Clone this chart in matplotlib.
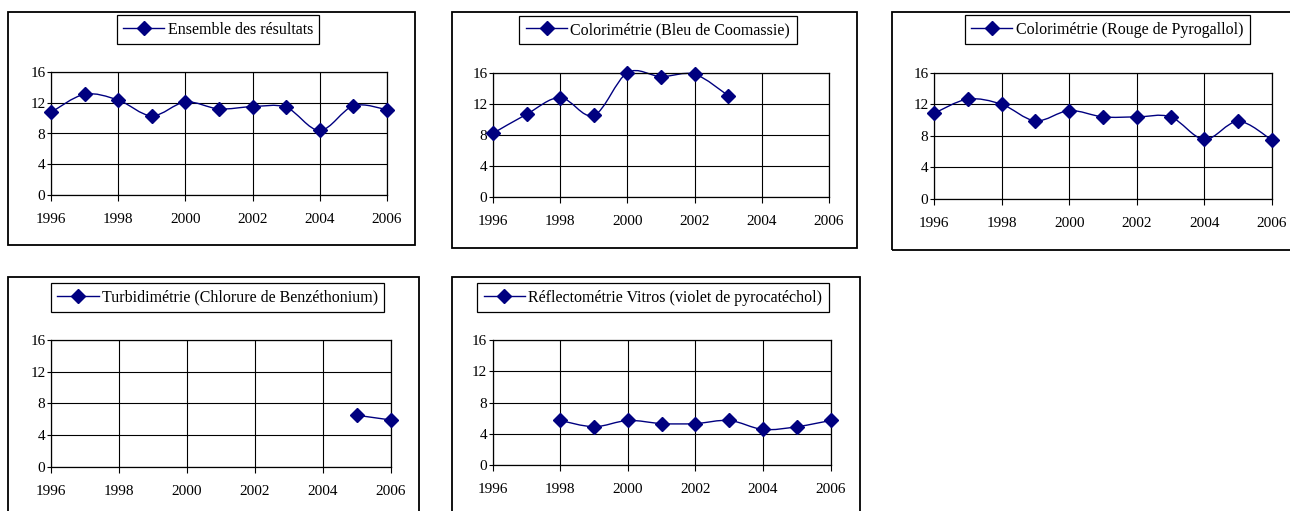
import numpy as np
import matplotlib
matplotlib.use("Agg")
import matplotlib.pyplot as plt
from matplotlib.path import Path
from matplotlib.patches import PathPatch, Rectangle
from matplotlib.lines import Line2D

plt.rcParams['font.family'] = ['Liberation Serif', 'DejaVu Serif']

years = [1996, 1997, 1998, 1999, 2000, 2001, 2002, 2003, 2004, 2005, 2006]

ensemble = [10.75, 13.1, 12.35, 10.3, 12.1, 11.2, 11.5, 11.4, 8.4, 11.6, 11.1]
coomassie = [8.2, 10.65, 12.8, 10.5, 16.0, 15.5, 15.8, 13.05, None, None, None]
pyrogallol = [10.85, 12.65, 12.0, 9.9, 11.2, 10.4, 10.4, 10.4, 7.55, 9.85, 7.45]
benzethonium = [None, None, None, None, None, None, None, None, None, 6.5, 5.9]
vitros = [None, None, 5.7, 4.9, 5.7, 5.3, 5.3, 5.7, 4.55, 4.9, 5.7]

titles = ["Ensemble des résultats",
          "Colorimétrie (Bleu de Coomassie)",
          "Colorimétrie (Rouge de Pyrogallol)",
          "Turbidimétrie (Chlorure de Benzéthonium)",
          "Réflectométrie Vitros (violet de pyrocatéchol)"]
series = [ensemble, coomassie, pyrogallol, benzethonium, vitros]

x_ticks = [1996, 1998, 2000, 2002, 2004, 2006]
y_ticks = [0, 4, 8, 12, 16]

NAVY = "#000080"
W, H = 1290, 511

# pixel layout: outer frame, plot area, legend centre
frames = [(8, 12, 415, 245), (452, 12, 857, 248), (892, 12, 1296, 250),
          (8, 277, 419, 516), (452, 277, 860, 516)]
plot_areas = [(51, 72, 387, 195), (493, 72.7, 829, 197), (934, 72.7, 1272, 199),
              (51, 340, 390.7, 466.7), (492.7, 340, 830.7, 465)]
legend_centres = [(218, 29.5), (658, 30), (1107, 29.5), (217.5, 297.5), (653, 297.5)]


def smooth_path(xs, ys):
    # cubic bezier through the points, tangents like a spreadsheet smoothed line
    pts = np.column_stack([xs, ys]).astype(float)
    n = len(pts)
    verts = [pts[0]]
    codes = [Path.MOVETO]
    for i in range(n - 1):
        p0 = pts[i - 1] if i > 0 else pts[i]
        p1 = pts[i]
        p2 = pts[i + 1]
        p3 = pts[i + 2] if i + 2 < n else pts[i + 1]
        c1 = p1 + (p2 - p0) / 6.0
        c2 = p2 - (p3 - p1) / 6.0
        verts += [c1, c2, p2]
        codes += [Path.CURVE4] * 3
    return Path(verts, codes)


fig = plt.figure(figsize=(W / 100, H / 100), dpi=100)

for k in range(5):
    x0, y0, x1, y1 = frames[k]
    fig.patches.append(Rectangle((x0 / W, 1 - y1 / H), (x1 - x0) / W, (y1 - y0) / H,
                                 transform=fig.transFigure, fill=False,
                                 edgecolor="black", linewidth=1.3))

    l, t, r, b = plot_areas[k]
    ax = fig.add_axes([l / W, 1 - b / H, (r - l) / W, (b - t) / H])
    ax.set_xlim(1996, 2006)
    ax.set_ylim(0, 16)
    ax.set_xticks(x_ticks)
    ax.set_yticks(y_ticks)
    ax.grid(True, color="black", linewidth=0.8)
    ax.set_axisbelow(True)
    for s in ax.spines.values():
        s.set_linewidth(0.9)
        s.set_color("black")
    ax.tick_params(axis="x", direction="out", length=4, width=0.8, pad=9, labelsize=11)
    ax.tick_params(axis="y", direction="out", length=3, width=0.8, pad=1, labelsize=11)

    vals = series[k]
    xs = [yr for yr, v in zip(years, vals) if v is not None]
    ys = [v for v in vals if v is not None]
    if len(xs) > 1:
        ax.add_patch(PathPatch(smooth_path(xs, ys), facecolor="none",
                               edgecolor=NAVY, linewidth=1.0, clip_on=False))
    ax.plot(xs, ys, linestyle="none", marker="D", markersize=7.5,
            color=NAVY, clip_on=False, zorder=5)

    handle = Line2D([], [], color=NAVY, linewidth=1.0, marker="D", markersize=7.5)
    cx, cy = legend_centres[k]
    leg = ax.legend([handle], [titles[k]], loc="center",
                    bbox_to_anchor=(cx / W, 1 - cy / H), bbox_transform=fig.transFigure,
                    fontsize=11.5, frameon=True, fancybox=False, framealpha=1,
                    edgecolor="black", handlelength=2.6, handletextpad=0.2,
                    borderpad=0.4, borderaxespad=0)
    leg.get_frame().set_linewidth(0.9)

fig.savefig("out.png", dpi=100)
